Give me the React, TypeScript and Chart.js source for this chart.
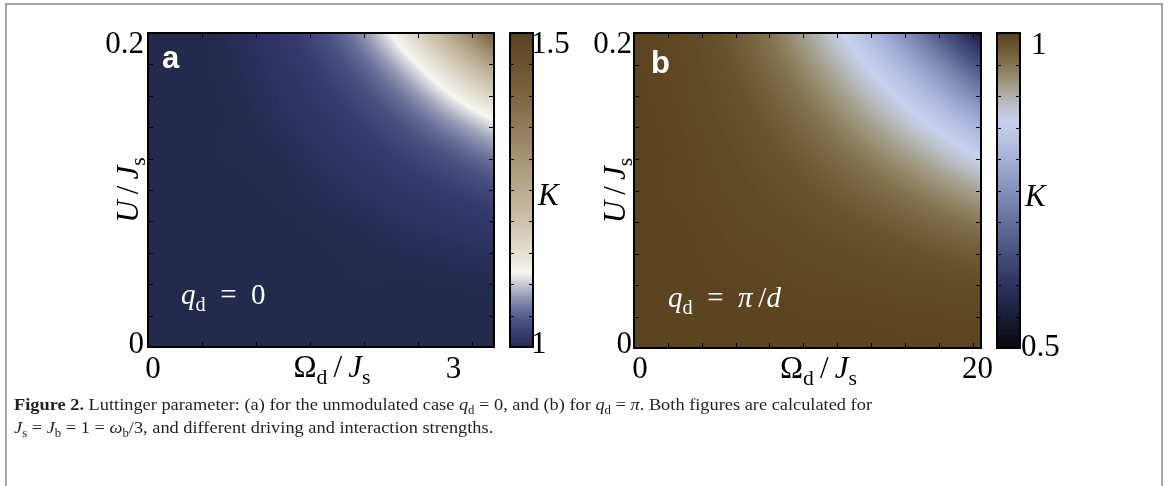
import React, { useEffect, useRef } from "react";
import { Chart, registerables } from "chart.js";
Chart.register(...registerables);

// ---------------- DATA ----------------
// Panel a: Omega_d/J_s nodes, U/J_s nodes, Luttinger parameter K (rows = U, cols = Omega)
const omegaA = [0, 0.4, 0.8, 1.2, 1.6, 2.0, 2.4, 2.8, 3.2];
const uNodes = [0, 0.025, 0.05, 0.075, 0.1, 0.125, 0.15, 0.175, 0.2];
const kA = [
  [1.0, 1.0, 1.0, 1.0, 1.0, 1.0, 1.0, 1.0, 1.0],
  [1.0, 1.0, 1.0, 1.0, 1.0, 1.0, 1.0, 1.0, 1.0],
  [1.0, 1.0, 1.0, 1.0, 1.0, 1.001, 1.001, 1.002, 1.003],
  [1.0, 1.0, 1.0, 1.0, 1.001, 1.002, 1.005, 1.008, 1.012],
  [1.0, 1.0, 1.0, 1.001, 1.003, 1.007, 1.013, 1.021, 1.033],
  [1.0, 1.0, 1.001, 1.002, 1.007, 1.015, 1.028, 1.047, 1.072],
  [1.0, 1.0, 1.001, 1.005, 1.013, 1.028, 1.054, 1.092, 1.135],
  [1.0, 1.0, 1.002, 1.008, 1.022, 1.049, 1.094, 1.16, 1.245],
  [1.0, 1.0, 1.003, 1.013, 1.036, 1.079, 1.151, 1.261, 1.42],
];
// Panel b
const omegaB = [0, 2.5625, 5.125, 7.6875, 10.25, 12.8125, 15.375, 17.9375, 20.5];
const kB = [
  [1.0, 1.0, 1.0, 1.0, 1.0, 1.0, 1.0, 1.0, 1.0],
  [1.0, 1.0, 1.0, 1.0, 0.999, 0.999, 0.998, 0.997, 0.996],
  [1.0, 1.0, 0.999, 0.998, 0.996, 0.994, 0.99, 0.986, 0.981],
  [1.0, 1.0, 0.998, 0.995, 0.99, 0.984, 0.976, 0.965, 0.953],
  [1.0, 0.999, 0.996, 0.99, 0.981, 0.969, 0.953, 0.933, 0.909],
  [1.0, 0.999, 0.994, 0.984, 0.969, 0.948, 0.921, 0.888, 0.847],
  [1.0, 0.998, 0.99, 0.976, 0.953, 0.921, 0.88, 0.829, 0.768],
  [1.0, 0.997, 0.986, 0.965, 0.933, 0.888, 0.829, 0.756, 0.669],
  [1.0, 0.996, 0.981, 0.953, 0.909, 0.847, 0.768, 0.669, 0.55],
];

// ticks
const xTicksA = [0.5, 1, 1.5, 2, 2.5, 3];
const xTicksB = [2, 4, 6, 8, 10, 12, 14, 16, 18, 20];
const uTicks = [0.02, 0.04, 0.06, 0.08, 0.1, 0.12, 0.14, 0.16, 0.18];
const kTicksA = [1.05, 1.1, 1.15, 1.2, 1.25, 1.3, 1.35, 1.4, 1.45];
const kTicksB = [0.55, 0.6, 0.65, 0.7, 0.75, 0.8, 0.85, 0.9, 0.95];
const xLabelValsA = [0, 3];
const xLabelTxtA = ["0", "3"];
const xLabelValsB = [0, 20];
const xLabelTxtB = ["0", "20"];
const uLabelVals = [0, 0.2];
const uLabelTxt = ["0", "0.2"];
const kLabelValsA = [1, 1.5];
const kLabelTxtA = ["1", "1.5"];
const kLabelValsB = [0.5, 1];
const kLabelTxtB = ["0.5", "1"];

// ---------------- STYLE ----------------
const stopsA = [1.0, 1.006, 1.02, 1.04, 1.06, 1.08, 1.1, 1.118, 1.15, 1.2, 1.3, 1.4, 1.5];
const colorsA = ["#242a4b", "#2b3160", "#363d6e", "#4a5282", "#6a7199", "#959ab4", "#c8cad6", "#f6f5f0", "#e4dfd2", "#cdc3ac", "#a69474", "#7d6542", "#5a4220"];
const stopsB = [0.5, 0.55, 0.6, 0.65, 0.7, 0.75, 0.8, 0.86, 0.89, 0.92, 0.95, 0.98, 1.0];
const colorsB = ["#08080f", "#1a1d38", "#2e3462", "#46507e", "#65709c", "#8591bb", "#a5b1d8", "#c8d2ef", "#b8bcc0", "#a09a84", "#85734f", "#6a5430", "#5c4420"];

const SERIF = '"Liberation Serif", "Times New Roman", serif';
const SANS = '"Liberation Sans", Arial, sans-serif';

type Seg = { t: string; f?: "r" | "i" | "b" | "bs"; sub?: boolean };

function fontFor(seg: Seg, size: number) {
  const s = seg.sub ? size * 0.7 : size;
  const fam = seg.f === "bs" ? SANS : SERIF;
  const st = seg.f === "i" ? "italic " : "";
  const wt = seg.f === "b" || seg.f === "bs" ? "bold " : "";
  return `${st}${wt}${s}px ${fam}`;
}
function measureRich(ctx: CanvasRenderingContext2D, segs: Seg[], size: number) {
  let w = 0;
  for (const s of segs) {
    ctx.font = fontFor(s, size);
    w += ctx.measureText(s.t).width;
  }
  return w;
}
function drawRich(ctx: CanvasRenderingContext2D, segs: Seg[], x: number, y: number, size: number, align: "left" | "center" | "right", color: string) {
  const w = measureRich(ctx, segs, size);
  let cx = align === "left" ? x : align === "center" ? x - w / 2 : x - w;
  ctx.save();
  ctx.fillStyle = color;
  ctx.textAlign = "left";
  ctx.textBaseline = "alphabetic";
  for (const s of segs) {
    ctx.font = fontFor(s, size);
    ctx.fillText(s.t, cx, y + (s.sub ? size * 0.24 : 0));
    cx += ctx.measureText(s.t).width;
  }
  ctx.restore();
  return w;
}

function hexToRgb(h: string) {
  return [parseInt(h.slice(1, 3), 16), parseInt(h.slice(3, 5), 16), parseInt(h.slice(5, 7), 16)];
}
function colorAt(v: number, stops: number[], rgbs: number[][]) {
  const n = stops.length;
  if (v <= stops[0]) return rgbs[0];
  if (v >= stops[n - 1]) return rgbs[n - 1];
  for (let i = 0; i < n - 1; i++) {
    if (v <= stops[i + 1]) {
      const t = (v - stops[i]) / (stops[i + 1] - stops[i]);
      const a = rgbs[i], b = rgbs[i + 1];
      return [a[0] + (b[0] - a[0]) * t, a[1] + (b[1] - a[1]) * t, a[2] + (b[2] - a[2]) * t];
    }
  }
  return rgbs[n - 1];
}
function findIdx(arr: number[], v: number) {
  let i = 0;
  while (i < arr.length - 2 && v > arr[i + 1]) i++;
  return i;
}
// cubic (Catmull-Rom) shading between the grid nodes
function cr(p0: number, p1: number, p2: number, p3: number, t: number) {
  return 0.5 * (2 * p1 + (-p0 + p2) * t + (2 * p0 - 5 * p1 + 4 * p2 - p3) * t * t + (-p0 + 3 * p1 - 3 * p2 + p3) * t * t * t);
}
function node(g: number[][], j: number, i: number) {
  const nj = g.length, ni = g[0].length;
  const row = (jj: number) => {
    const get = (ii: number) => {
      if (ii < 0) return 2 * g[jj][0] - g[jj][1];
      if (ii >= ni) return 2 * g[jj][ni - 1] - g[jj][ni - 2];
      return g[jj][ii];
    };
    return get(i);
  };
  if (j < 0) return 2 * row(0) - row(1);
  if (j >= nj) return 2 * row(nj - 1) - row(nj - 2);
  return row(j);
}
function sample(xs: number[], ys: number[], g: number[][], x: number, y: number) {
  const i = findIdx(xs, x), j = findIdx(ys, y);
  const tx = Math.min(1, Math.max(0, (x - xs[i]) / (xs[i + 1] - xs[i])));
  const ty = Math.min(1, Math.max(0, (y - ys[j]) / (ys[j + 1] - ys[j])));
  const r: number[] = [];
  for (let k = -1; k <= 2; k++) {
    r.push(cr(node(g, j + k, i - 1), node(g, j + k, i), node(g, j + k, i + 1), node(g, j + k, i + 2), tx));
  }
  return cr(r[0], r[1], r[2], r[3], ty);
}

type Lbl = { v: number; t: string; dx: number; dy: number; align: "left" | "center" | "right" };

interface PanelCfg {
  xs: number[]; ys: number[]; grid: number[][];
  xMax: number; yMax: number; kMin: number; kMax: number;
  xTicks: number[]; yTicks: number[]; kTicks: number[];
  xLabels: Lbl[]; yLabels: Lbl[]; kLabels: Lbl[];
  stops: number[]; colors: string[];
  pad: { left: number; top: number; right: number; bottom: number };
  letter: string; letterDx: number; letterDy: number;
  qSegs: Seg[]; qDx: number; qDy: number;
  xTitleDx: number; xTitleDy: number; yTitleDx: number;
  kTitleDx: number; kTitleDy: number;
}

const FS = 31;
const THIN = "\u2009";
const EN = "\u2002";

function makePanel(canvas: HTMLCanvasElement, cfg: PanelCfg) {
  const rgbs = cfg.colors.map(hexToRgb);
  const pts: { x: number; y: number }[] = [];
  cfg.ys.forEach((y) => cfg.xs.forEach((x) => pts.push({ x, y })));
  const plugin = {
    id: "heat",
    afterDraw(chart: any) {
      const { ctx, chartArea: ca, scales } = chart;
      const sx = scales.x, sy = scales.y, sk = scales.k;
      const L = Math.round(ca.left), T = Math.round(ca.top);
      const R = Math.round(ca.right), B = Math.round(ca.bottom);
      const W = R - L, H = B - T;
      // heatmap
      const off = document.createElement("canvas");
      off.width = W; off.height = H;
      const octx = off.getContext("2d")!;
      const img = octx.createImageData(W, H);
      for (let py = 0; py < H; py++) {
        const yv = sy.getValueForPixel(T + py + 0.5);
        for (let px = 0; px < W; px++) {
          const xv = sx.getValueForPixel(L + px + 0.5);
          const v = sample(cfg.xs, cfg.ys, cfg.grid, xv, yv);
          const c = colorAt(v, cfg.stops, rgbs);
          const o = (py * W + px) * 4;
          img.data[o] = c[0]; img.data[o + 1] = c[1]; img.data[o + 2] = c[2]; img.data[o + 3] = 255;
        }
      }
      octx.putImageData(img, 0, 0);
      ctx.save();
      ctx.drawImage(off, L, T);
      // colorbar
      const barL = R + 16, barW = 23, barR = barL + barW;
      for (let py = T; py < B; py++) {
        const kv = sk.getValueForPixel(py + 0.5);
        const c = colorAt(kv, cfg.stops, rgbs);
        ctx.fillStyle = `rgb(${c[0] | 0},${c[1] | 0},${c[2] | 0})`;
        ctx.fillRect(barL, py, barW, 1);
      }
      // ticks
      ctx.strokeStyle = "#000";
      ctx.lineWidth = 1;
      ctx.beginPath();
      for (const v of cfg.xTicks) {
        const p = Math.round(sx.getPixelForValue(v)) + 0.5;
        ctx.moveTo(p, B); ctx.lineTo(p, B - 5);
        ctx.moveTo(p, T); ctx.lineTo(p, T + 5);
      }
      for (const v of cfg.yTicks) {
        const p = Math.round(sy.getPixelForValue(v)) + 0.5;
        ctx.moveTo(L, p); ctx.lineTo(L + 5, p);
        ctx.moveTo(R, p); ctx.lineTo(R - 5, p);
      }
      for (const v of cfg.kTicks) {
        const p = Math.round(sk.getPixelForValue(v)) + 0.5;
        ctx.moveTo(barL, p); ctx.lineTo(barL + 4, p);
        ctx.moveTo(barR, p); ctx.lineTo(barR - 4, p);
      }
      ctx.stroke();
      // frames
      ctx.lineWidth = 2;
      ctx.strokeRect(L, T, W, H);
      ctx.strokeRect(barL, T, barW, H);
      ctx.restore();
      // tick labels
      for (const l of cfg.xLabels) {
        drawRich(ctx, [{ t: l.t }], sx.getPixelForValue(l.v) + l.dx, B + l.dy, FS, l.align, "#000");
      }
      for (const l of cfg.yLabels) {
        drawRich(ctx, [{ t: l.t }], L + l.dx, sy.getPixelForValue(l.v) + l.dy, FS, l.align, "#000");
      }
      for (const l of cfg.kLabels) {
        drawRich(ctx, [{ t: l.t }], barR + l.dx, sk.getPixelForValue(l.v) + l.dy, FS, l.align, "#000");
      }
      // axis titles
      drawRich(ctx, [{ t: "Ω" }, { t: "d", sub: true }, { t: THIN + "/" + THIN }, { t: "J", f: "i" }, { t: "s", sub: true }],
        (L + R) / 2 + cfg.xTitleDx, B + cfg.xTitleDy, FS, "center", "#000");
      ctx.save();
      ctx.translate(L + cfg.yTitleDx, (T + B) / 2);
      ctx.rotate(-Math.PI / 2);
      drawRich(ctx, [{ t: "U", f: "i" }, { t: THIN + "/" + THIN }, { t: "J", f: "i" }, { t: "s", sub: true }], 0, 0, FS, "center", "#000");
      ctx.restore();
      drawRich(ctx, [{ t: "K", f: "i" }], barR + cfg.kTitleDx, (T + B) / 2 + cfg.kTitleDy, FS, "left", "#000");
      // panel letter and annotation
      drawRich(ctx, [{ t: cfg.letter, f: "bs" }], L + cfg.letterDx, T + cfg.letterDy, 31, "left", "#fff");
      drawRich(ctx, cfg.qSegs, L + cfg.qDx, B + cfg.qDy, 29, "left", "#fff");
    },
  };
  return new Chart(canvas, {
    type: "scatter",
    data: { datasets: [{ data: pts, pointRadius: 0, showLine: false }] },
    options: {
      animation: false,
      responsive: false,
      events: [],
      layout: { padding: cfg.pad },
      plugins: { legend: { display: false }, tooltip: { enabled: false } },
      scales: {
        x: { type: "linear", min: 0, max: cfg.xMax, display: false },
        y: { type: "linear", min: 0, max: cfg.yMax, display: false },
        k: { type: "linear", axis: "y", position: "right", min: cfg.kMin, max: cfg.kMax, display: false },
      },
    },
    plugins: [plugin],
  } as any);
}

const panelA: PanelCfg = {
  xs: omegaA, ys: uNodes, grid: kA, xMax: 3.2, yMax: 0.2, kMin: 1, kMax: 1.5,
  xTicks: xTicksA, yTicks: uTicks, kTicks: kTicksA,
  xLabels: xLabelValsA.map((v, i) => ({ v, t: xLabelTxtA[i], dx: i === 0 ? 5 : -19, dy: 31, align: "center" as const })),
  yLabels: uLabelVals.map((v, i) => ({ v, t: uLabelTxt[i], dx: -4, dy: i === 0 ? 6 : 20, align: "right" as const })),
  kLabels: kLabelValsA.map((v, i) => ({ v, t: kLabelTxtA[i], dx: -2, dy: i === 0 ? 6 : 20, align: "left" as const })),
  stops: stopsA, colors: colorsA,
  pad: { left: 58, top: 13, right: 86, bottom: 43 },
  letter: "a", letterDx: 14, letterDy: 35,
  qSegs: [{ t: "q", f: "i" }, { t: "d", sub: true }, { t: EN + "=" + EN + "0" }], qDx: 33, qDy: -43,
  xTitleDx: 11, xTitleDy: 30, yTitleDx: -10, kTitleDx: 5, kTitleDy: 15,
};
const panelB: PanelCfg = {
  xs: omegaB, ys: uNodes, grid: kB, xMax: 20.5, yMax: 0.2, kMin: 0.5, kMax: 1,
  xTicks: xTicksB, yTicks: uTicks, kTicks: kTicksB,
  xLabels: xLabelValsB.map((v, i) => ({ v, t: xLabelTxtB[i], dx: i === 0 ? 6 : 5, dy: 30, align: "center" as const })),
  yLabels: uLabelVals.map((v, i) => ({ v, t: uLabelTxt[i], dx: -2, dy: i === 0 ? 5 : 20, align: "right" as const })),
  kLabels: kLabelValsB.map((v, i) => ({ v, t: kLabelTxtB[i], dx: i === 0 ? 1 : 11, dy: i === 0 ? 8 : 21, align: "left" as const })),
  stops: stopsB, colors: colorsB,
  pad: { left: 54, top: 13, right: 89, bottom: 42 },
  letter: "b", letterDx: 17, letterDy: 40,
  qSegs: [{ t: "q", f: "i" }, { t: "d", sub: true }, { t: EN + "=" + EN }, { t: "π", f: "i" }, { t: THIN + "/" }, { t: "d", f: "i" }], qDx: 34, qDy: -41,
  xTitleDx: 11, xTitleDy: 30, yTitleDx: -9, kTitleDx: 5, kTitleDy: 15,
};

const capLine1: Seg[] = [
  { t: "Figure 2.", f: "b" },
  { t: " Luttinger parameter: (a) for the unmodulated case " },
  { t: "q", f: "i" }, { t: "d", sub: true },
  { t: " = 0, and (b) for " },
  { t: "q", f: "i" }, { t: "d", sub: true },
  { t: " = " }, { t: "π", f: "i" },
  { t: ". Both figures are calculated for" },
];
const capLine2: Seg[] = [
  { t: "J", f: "i" }, { t: "s", sub: true },
  { t: " = " }, { t: "J", f: "i" }, { t: "b", sub: true },
  { t: " = 1 = " }, { t: "ω", f: "i" }, { t: "b", sub: true },
  { t: "/3, and different driving and interaction strengths." },
];

function drawCaption(c: HTMLCanvasElement) {
  const ctx = c.getContext("2d")!;
  ctx.clearRect(0, 0, c.width, c.height);
  const size = 17;
  const w1 = measureRich(ctx, capLine1, size);
  const s = 858 / w1;
  ctx.save();
  ctx.translate(14, 0);
  ctx.scale(s, 1);
  drawRich(ctx, capLine1, 0, 20, size, "left", "#231f20");
  drawRich(ctx, capLine2, 0, 43, size, "left", "#231f20");
  ctx.restore();
}

export default function App() {
  const refA = useRef<HTMLCanvasElement>(null);
  const refB = useRef<HTMLCanvasElement>(null);
  const refC = useRef<HTMLCanvasElement>(null);
  useEffect(() => {
    const a = makePanel(refA.current!, panelA);
    const b = makePanel(refB.current!, panelB);
    drawCaption(refC.current!);
    return () => {
      a.destroy();
      b.destroy();
    };
  }, []);
  return (
    <div style={{ position: "absolute", left: 0, top: 0, width: 1168, height: 486, background: "#fff", overflow: "hidden" }}>
      <div
        style={{
          position: "absolute", left: 5, top: 3, width: 1158, height: 483, boxSizing: "border-box",
          borderLeft: "2px solid #a6a6a6", borderTop: "2px solid #a6a6a6", borderRight: "2px solid #a6a6a6",
        }}
      />
      <canvas ref={refA} width={490} height={370} style={{ position: "absolute", left: 90, top: 20, width: 490, height: 370 }} />
      <canvas ref={refB} width={490} height={370} style={{ position: "absolute", left: 580, top: 20, width: 490, height: 370 }} />
      <canvas ref={refC} width={1168} height={90} style={{ position: "absolute", left: 0, top: 390, width: 1168, height: 90 }} />
    </div>
  );
}
